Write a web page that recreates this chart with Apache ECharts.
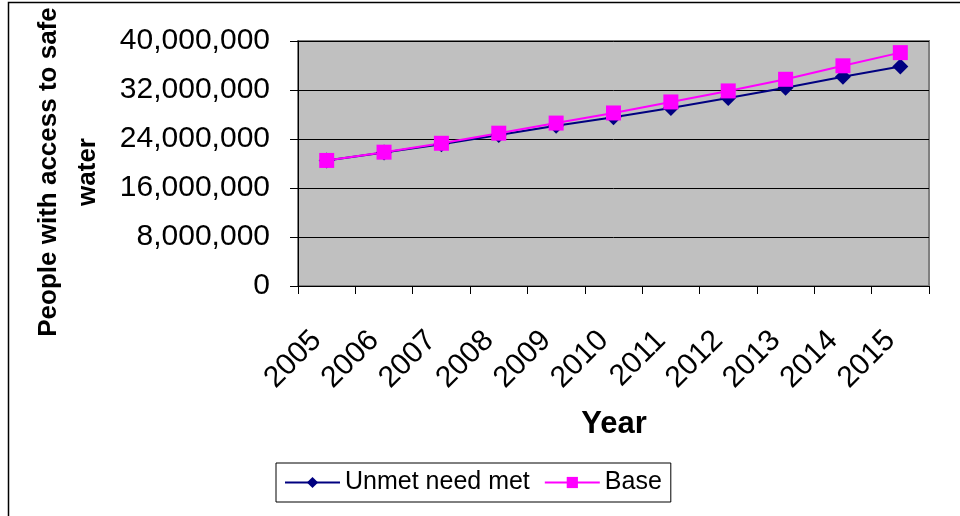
<!DOCTYPE html>
<html>
<head>
<meta charset="utf-8">
<script src="https://cdn.jsdelivr.net/npm/echarts@6/dist/echarts.min.js"></script>
<style>
  html, body { margin: 0; padding: 0; background: #ffffff; }
  #chart { width: 960px; height: 516px; }
</style>
</head>
<body>
<div id="chart"></div>
<script>
// Years on the category axis
const years = ['2005', '2006', '2007', '2008', '2009', '2010', '2011', '2012', '2013', '2014', '2015'];
// People with access to safe water, per scenario
const unmetNeedMet = [20500000, 21800000, 23150000, 24650000, 26150000, 27550000, 29050000, 30700000, 32350000, 34150000, 35850000];
const base = [20500000, 21850000, 23300000, 24950000, 26600000, 28250000, 30050000, 31850000, 33750000, 35950000, 38100000];
// Value axis range
const yMin = 0;
const yMax = 40000000;
const yStep = 8000000;

const font = 'Liberation Sans, Arial, sans-serif';

const chart = echarts.init(document.getElementById('chart'), null, { renderer: 'canvas' });

chart.setOption({
  animation: false,
  backgroundColor: '#ffffff',
  grid: {
    left: 298, top: 41, right: 31, bottom: 230,
    show: true,
    backgroundColor: '#C0C0C0',
    borderColor: '#808080',
    borderWidth: 2
  },
  legend: {
    left: 276, top: 463,
    padding: [7, 9, 7, 8],
    itemWidth: 55, itemHeight: 14, itemGap: 14,
    borderColor: '#000000', borderWidth: 1,
    backgroundColor: '#ffffff',
    textStyle: { fontFamily: font, fontSize: 25, color: '#000000' },
    data: ['Unmet need met', 'Base']
  },
  xAxis: {
    type: 'category',
    data: years,
    boundaryGap: true,
    axisLine: { show: true, lineStyle: { color: '#000000', width: 1 } },
    axisTick: { show: true, length: 8, lineStyle: { color: '#000000' } },
    axisLabel: {
      rotate: 45, margin: 40, interval: 0,
      padding: [0, 14, 0, 0],
      fontFamily: font, fontSize: 30, color: '#000000'
    },
    splitLine: { show: false }
  },
  yAxis: {
    type: 'value',
    min: yMin, max: yMax, interval: yStep,
    axisLine: { show: true, lineStyle: { color: '#000000', width: 1 } },
    axisTick: { show: true, length: 8, lineStyle: { color: '#000000' } },
    axisLabel: {
      margin: 28,
      fontFamily: font, fontSize: 30, color: '#000000',
      formatter: v => v.toLocaleString('en-US')
    },
    splitLine: { show: true, lineStyle: { color: '#000000', width: 1 } }
  },
  graphic: [
    {
      type: 'polyline',
      shape: { points: [[8.5, 516], [8.5, 2.5], [960, 2.5]] },
      style: { stroke: '#000000', lineWidth: 1.5, fill: null },
      silent: true
    },
    {
      type: 'text',
      x: 68, y: 172,
      rotation: Math.PI / 2,
      style: {
        text: 'People with access to safe\nwater',
        fontFamily: font, fontSize: 26, fontWeight: 'bold',
        fill: '#000000', align: 'center', verticalAlign: 'middle',
        lineHeight: 39
      }
    },
    {
      type: 'text',
      x: 614, y: 424,
      style: {
        text: 'Year',
        fontFamily: font, fontSize: 31, fontWeight: 'bold',
        fill: '#000000', align: 'center', verticalAlign: 'middle'
      }
    }
  ],
  series: [
    {
      name: 'Unmet need met',
      type: 'line',
      data: unmetNeedMet,
      symbol: 'diamond',
      symbolSize: 16,
      color: '#000080',
      lineStyle: { color: '#000080', width: 2 },
      itemStyle: { color: '#000080' }
    },
    {
      name: 'Base',
      type: 'line',
      data: base,
      symbol: 'rect',
      symbolSize: 15,
      color: '#FF00FF',
      lineStyle: { color: '#FF00FF', width: 2 },
      itemStyle: { color: '#FF00FF' }
    }
  ]
});
</script>
</body>
</html>
